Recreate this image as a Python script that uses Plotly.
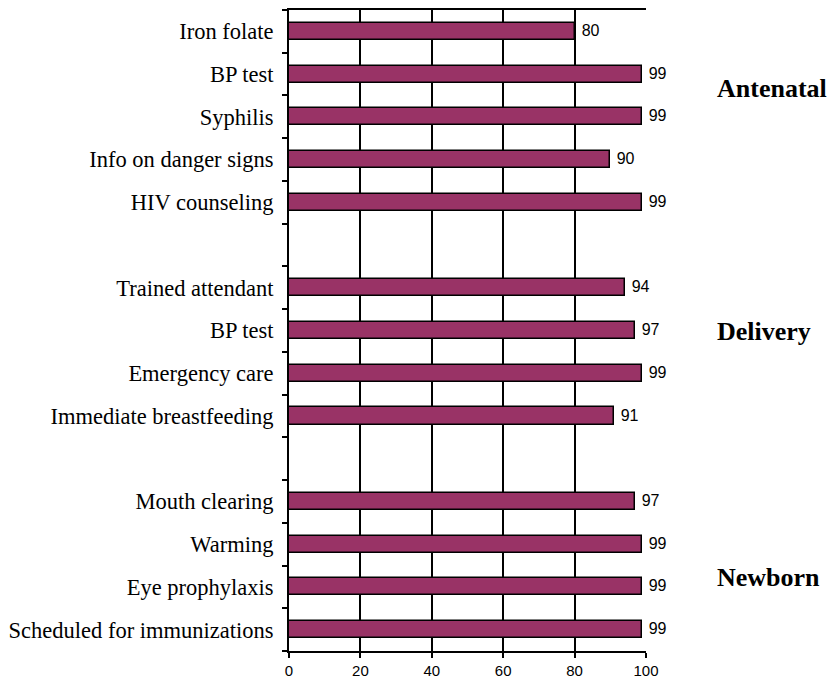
import plotly.graph_objects as go

categories = ["Iron folate", "BP test", "Syphilis", "Info on danger signs", "HIV counseling", "",
              "Trained attendant", "BP test", "Emergency care", "Immediate breastfeeding", "",
              "Mouth clearing", "Warming", "Eye prophylaxis", "Scheduled for immunizations"]
values = [80, 99, 99, 90, 99, None, 94, 97, 99, 91, None, 97, 99, 99, 99]
groups = ["Antenatal", "Delivery", "Newborn"]
group_pos = [0.878, 0.498, 0.115]
x_ticks = [0, 20, 40, 60, 80, 100]

idx = list(range(len(categories)))
fig = go.Figure()
fig.add_trace(go.Bar(
    x=values, y=idx, orientation="h", width=0.40,
    marker=dict(color="#993366", line=dict(color="black", width=1.5)),
    text=[("" if v is None else "\u00a0" + str(v)) for v in values],
    textposition="outside", cliponaxis=False,
    textfont=dict(family="Liberation Sans, Arial", size=16, color="black"),
))
for g, p in zip(groups, group_pos):
    fig.add_annotation(text="<b>%s</b>" % g, xref="paper", yref="paper", x=1.193, y=p,
                       xanchor="left", yanchor="middle", showarrow=False,
                       font=dict(family="Liberation Serif, Times New Roman", size=26, color="black"))
fig.update_layout(
    width=829, height=681, plot_bgcolor="white", paper_bgcolor="white",
    margin=dict(l=289, r=183, t=10, b=30, autoexpand=False), showlegend=False, bargap=0,
    xaxis=dict(range=[0, 100], tickvals=x_ticks, showgrid=True, gridcolor="black", gridwidth=1.5,
               showline=True, linecolor="black", linewidth=2, mirror=True, automargin=False,
               ticks="outside", ticklen=5, tickcolor="black", tickwidth=1.5,
               tickfont=dict(family="Liberation Sans, Arial", size=15, color="black"), zeroline=False),
    yaxis=dict(range=[14.5, -0.5], tickvals=idx, ticktext=categories, showgrid=False,
               showline=True, linecolor="black", linewidth=2, mirror=False, automargin=False,
               ticks="", ticklen=0, zeroline=False, ticklabelstandoff=9,
               tickfont=dict(family="Liberation Serif, Times New Roman", size=22.5, color="black"),
               minor=dict(tick0=0.5, dtick=1, ticks="outside", ticklen=5, tickcolor="black", tickwidth=1.5, showgrid=False)),
)
fig.write_html("out.html", config={"displayModeBar": False},
               post_script="document.body.style.margin='0';document.body.style.overflow='hidden';")
